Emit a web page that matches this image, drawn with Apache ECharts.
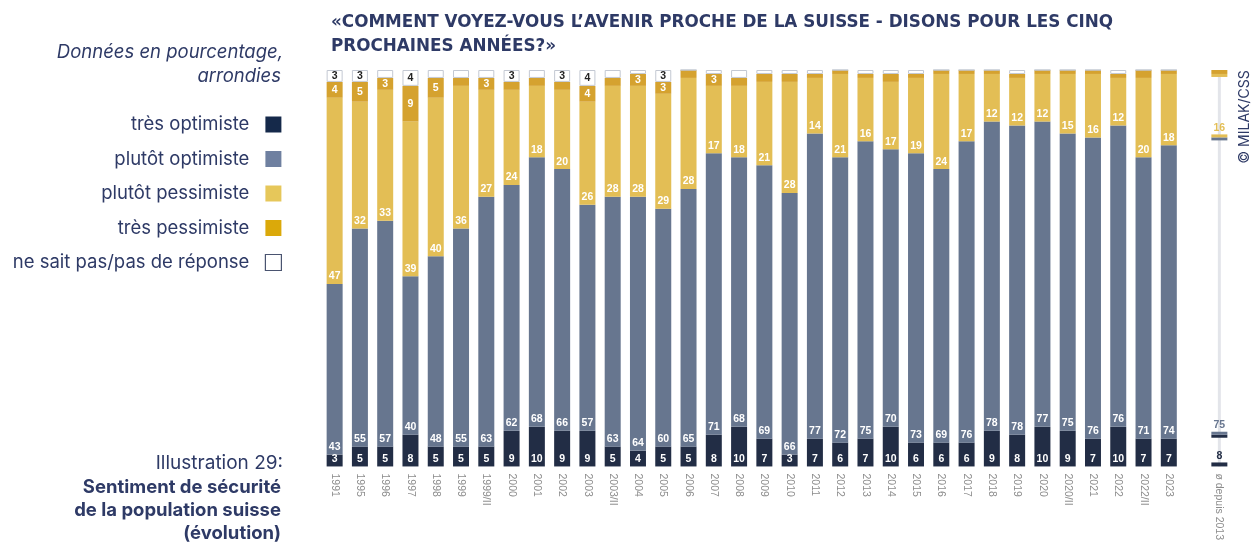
<!DOCTYPE html>
<html>
<head>
<meta charset="utf-8">
<script src="https://cdn.jsdelivr.net/npm/echarts@6/dist/echarts.min.js"></script>
<style>
  html, body { margin: 0; padding: 0; background: #fff; }
  #main { width: 1260px; height: 543px; }
</style>
</head>
<body>
<div id="main"></div>
<script>
// données en pourcentage, arrondies
var years = ['1991', '1995', '1996', '1997', '1998', '1999', '1999/II', '2000', '2001', '2002',
    '2003', '2003/II', '2004', '2005', '2006', '2007', '2008', '2009', '2010', '2011', '2012',
    '2013', '2014', '2015', '2016', '2017', '2018', '2019', '2020', '2020/II', '2021', '2022',
    '2022/II', '2023'];
var tresOptimiste = [3, 5, 5, 8, 5, 5, 5, 9, 10, 9, 9, 5, 4, 5, 5, 8, 10, 7, 3, 7, 6, 7, 10, 6, 6, 6, 9, 8, 10, 9, 7, 10, 7, 7];
var plutotOptimiste = [43, 55, 57, 40, 48, 55, 63, 62, 68, 66, 57, 63, 64, 60, 65, 71, 68, 69, 66, 77, 72, 75, 70, 73, 69, 76, 78, 78, 77, 75, 76, 76, 71, 74];
var plutotPessimiste = [47, 32, 33, 39, 40, 36, 27, 24, 18, 20, 26, 28, 28, 29, 28, 17, 18, 21, 28, 14, 21, 16, 17, 19, 24, 17, 12, 12, 12, 15, 16, 12, 20, 18];
var tresPessimiste = [4, 5, 3, 9, 5, 2, 3, 2, 2, 2, 4, 2, 3, 3, 2, 3, 2, 2, 2, 1, 1, 1, 2, 1, 1, 1, 1, 1, 1, 1, 1, 1, 2, 1];
var neSaitPas = [3, 3, 2, 4, 2, 2, 2, 3, 2, 3, 4, 2, 1, 3, 0, 1, 2, 1, 1, 1, 0, 1, 1, 1, 0, 0, 0, 1, 0, 0, 0, 1, 0, 0];

// moyenne depuis 2013 : très opt., plutôt opt., plutôt pess., très pess., nsp
var avgLabel = 'ø depuis 2013';
var avgValues = [8, 75, 16, 1, 0];

window.onload = function () {
    var myChart = echarts.init(document.getElementById('main'));

    var navy = '#222d45', grey = '#67768f', yellow = '#e3be55', gold = '#d5a22f';
    var textBlue = '#2e3a66';
    var font = 'Inter, "Noto Sans", sans-serif';

    var categories = years.concat(['', avgLabel]);
    var avgIndex = categories.length - 1;
    function pad(arr) { return arr.concat(['-', '-']); }

    function lbl(pos, color, minVal) {
        return {
            show: true,
            position: pos,
            distance: 2,
            color: color,
            fontSize: 10.5,
            fontWeight: 'bold',
            fontFamily: '"Liberation Sans", Arial, sans-serif',
            formatter: function (p) { return p.value >= minVal ? p.value : ''; }
        };
    }

    function bar(name, data, color, label, extra) {
        var s = {
            name: name,
            type: 'bar',
            stack: 'total',
            barWidth: 16,
            data: pad(data),
            itemStyle: { color: color },
            label: label
        };
        if (extra) s.itemStyle = extra;
        return s;
    }

    var option = {
        animation: false,
        title: {
            text: '«COMMENT VOYEZ-VOUS L’AVENIR PROCHE DE LA SUISSE - DISONS POUR LES CINQ\nPROCHAINES ANNÉES?»',
            left: 326,
            top: 6,
            textStyle: { fontSize: 16.8, fontWeight: 'bold', color: textBlue, fontFamily: '"DejaVu Sans", sans-serif', lineHeight: 24 }
        },
        legend: {
            orient: 'vertical',
            align: 'right',
            right: 978,
            top: 114,
            padding: 0,
            itemWidth: 16,
            itemHeight: 16,
            itemGap: 13.5,
            icon: 'rect',
            selectedMode: false,
            textStyle: { fontSize: 18.5, color: textBlue, fontFamily: font, lineHeight: 21, padding: [0, 11, 0, 0] },
            data: [
                { name: 'très optimiste', itemStyle: { color: '#15294a' } },
                { name: 'plutôt optimiste', itemStyle: { color: '#6f80a0' } },
                { name: 'plutôt pessimiste', itemStyle: { color: '#e6c75a' } },
                { name: 'très pessimiste', itemStyle: { color: '#dba90a' } },
                { name: 'ne sait pas/pas de réponse', itemStyle: { color: '#fff', borderColor: '#4a5470', borderWidth: 1.2 } }
            ]
        },
        grid: { left: 322, right: 28, top: 70, bottom: 72 },
        xAxis: {
            type: 'category',
            data: categories,
            axisLine: { show: false },
            axisTick: { show: false },
            axisLabel: {
                interval: 0,
                rotate: -90,
                margin: 7,
                fontSize: 10.5,
                color: '#8c8c8c',
                fontFamily: '"Liberation Sans", Arial, sans-serif'
            }
        },
        yAxis: { type: 'value', min: 0, max: 100, show: false },
        series: [
            bar('très optimiste', tresOptimiste, navy, lbl('insideBottom', '#fff', 0)),
            bar('plutôt optimiste', plutotOptimiste, grey, lbl('insideBottom', '#fff', 0)),
            bar('plutôt pessimiste', plutotPessimiste, yellow, lbl('insideBottom', '#fff', 0)),
            bar('très pessimiste', tresPessimiste, gold, lbl('inside', '#fff', 3)),
            bar('ne sait pas/pas de réponse', neSaitPas, '#fff', lbl('inside', '#222', 3),
                { color: '#fff', borderColor: '#c3c8d2', borderWidth: 1 }),
            {
                // barre de la moyenne depuis 2013
                type: 'custom',
                data: [[avgIndex]],
                encode: { x: 0 },
                z: 3,
                renderItem: function (params, api) {
                    var x = api.value(0);
                    var w = 16;
                    var cum = [0];
                    for (var i = 0; i < avgValues.length; i++) cum.push(cum[i] + avgValues[i]);
                    var pBot = api.coord([x, 0]);
                    var pTop = api.coord([x, 100]);
                    var cx = pBot[0];
                    var yb = function (v) { return api.coord([x, v])[1]; };
                    var children = [
                        { type: 'rect', shape: { x: cx - 1.5, y: pTop[1], width: 3, height: pBot[1] - pTop[1] }, style: { fill: '#e3e5ea' } },
                        // bas : très optimiste
                        { type: 'rect', shape: { x: cx - w / 2, y: pBot[1] - 4, width: w, height: 4 }, style: { fill: navy } },
                        // limite très opt. / plutôt opt.
                        { type: 'rect', shape: { x: cx - w / 2, y: yb(cum[1]), width: w, height: 3 }, style: { fill: navy } },
                        { type: 'rect', shape: { x: cx - w / 2, y: yb(cum[1]) - 3, width: w, height: 3 }, style: { fill: grey } },
                        // limite plutôt opt. / plutôt pess.
                        { type: 'rect', shape: { x: cx - w / 2, y: yb(cum[2]), width: w, height: 3 }, style: { fill: grey } },
                        { type: 'rect', shape: { x: cx - w / 2, y: yb(cum[2]) - 3, width: w, height: 3 }, style: { fill: yellow } },
                        // haut : très pessimiste
                        { type: 'rect', shape: { x: cx - w / 2, y: yb(cum[3]), width: w, height: 3 }, style: { fill: yellow } },
                        { type: 'rect', shape: { x: cx - w / 2, y: pTop[1], width: w, height: yb(cum[3]) - pTop[1] }, style: { fill: gold } }
                    ];
                    var labels = [
                        { v: cum[0], t: avgValues[0], c: navy, off: 5 },
                        { v: cum[1], t: avgValues[1], c: grey, off: 4 },
                        { v: cum[2], t: avgValues[2], c: yellow, off: 4 }
                    ];
                    labels.forEach(function (l) {
                        children.push({
                            type: 'text',
                            style: {
                                text: String(l.t),
                                x: cx,
                                y: yb(l.v) - l.off,
                                textAlign: 'center',
                                textVerticalAlign: 'bottom',
                                fill: l.c,
                                font: 'bold 10.5px "Liberation Sans", Arial, sans-serif'
                            }
                        });
                    });
                    return { type: 'group', children: children };
                }
            }
        ],
        graphic: [
            {
                type: 'text', x: 283, y: 52,
                style: { text: 'Données en pourcentage,', textAlign: 'right', textVerticalAlign: 'middle', fill: textBlue, font: 'italic 18.5px ' + font }
            },
            {
                type: 'text', x: 281, y: 76,
                style: { text: 'arrondies', textAlign: 'right', textVerticalAlign: 'middle', fill: textBlue, font: 'italic 18.5px ' + font }
            },
            {
                type: 'text', x: 283, y: 463,
                style: { text: 'Illustration 29:', textAlign: 'right', textVerticalAlign: 'middle', fill: textBlue, font: '19px ' + font }
            },
            {
                type: 'text', x: 281, y: 487,
                style: { text: 'Sentiment de sécurité', textAlign: 'right', textVerticalAlign: 'middle', fill: textBlue, font: 'bold 18.5px ' + font }
            },
            {
                type: 'text', x: 281, y: 510,
                style: { text: 'de la population suisse', textAlign: 'right', textVerticalAlign: 'middle', fill: textBlue, font: 'bold 18.5px ' + font }
            },
            {
                type: 'text', x: 281, y: 533,
                style: { text: '(évolution)', textAlign: 'right', textVerticalAlign: 'middle', fill: textBlue, font: 'bold 18.5px ' + font }
            },
            {
                type: 'text', x: 1245, y: 117, rotation: Math.PI / 2,
                style: { text: '© MILAK/CSS', textAlign: 'center', textVerticalAlign: 'middle', fill: textBlue, font: '14px ' + font }
            }
        ]
    };

    myChart.setOption(option);
};
</script>
</body>
</html>
